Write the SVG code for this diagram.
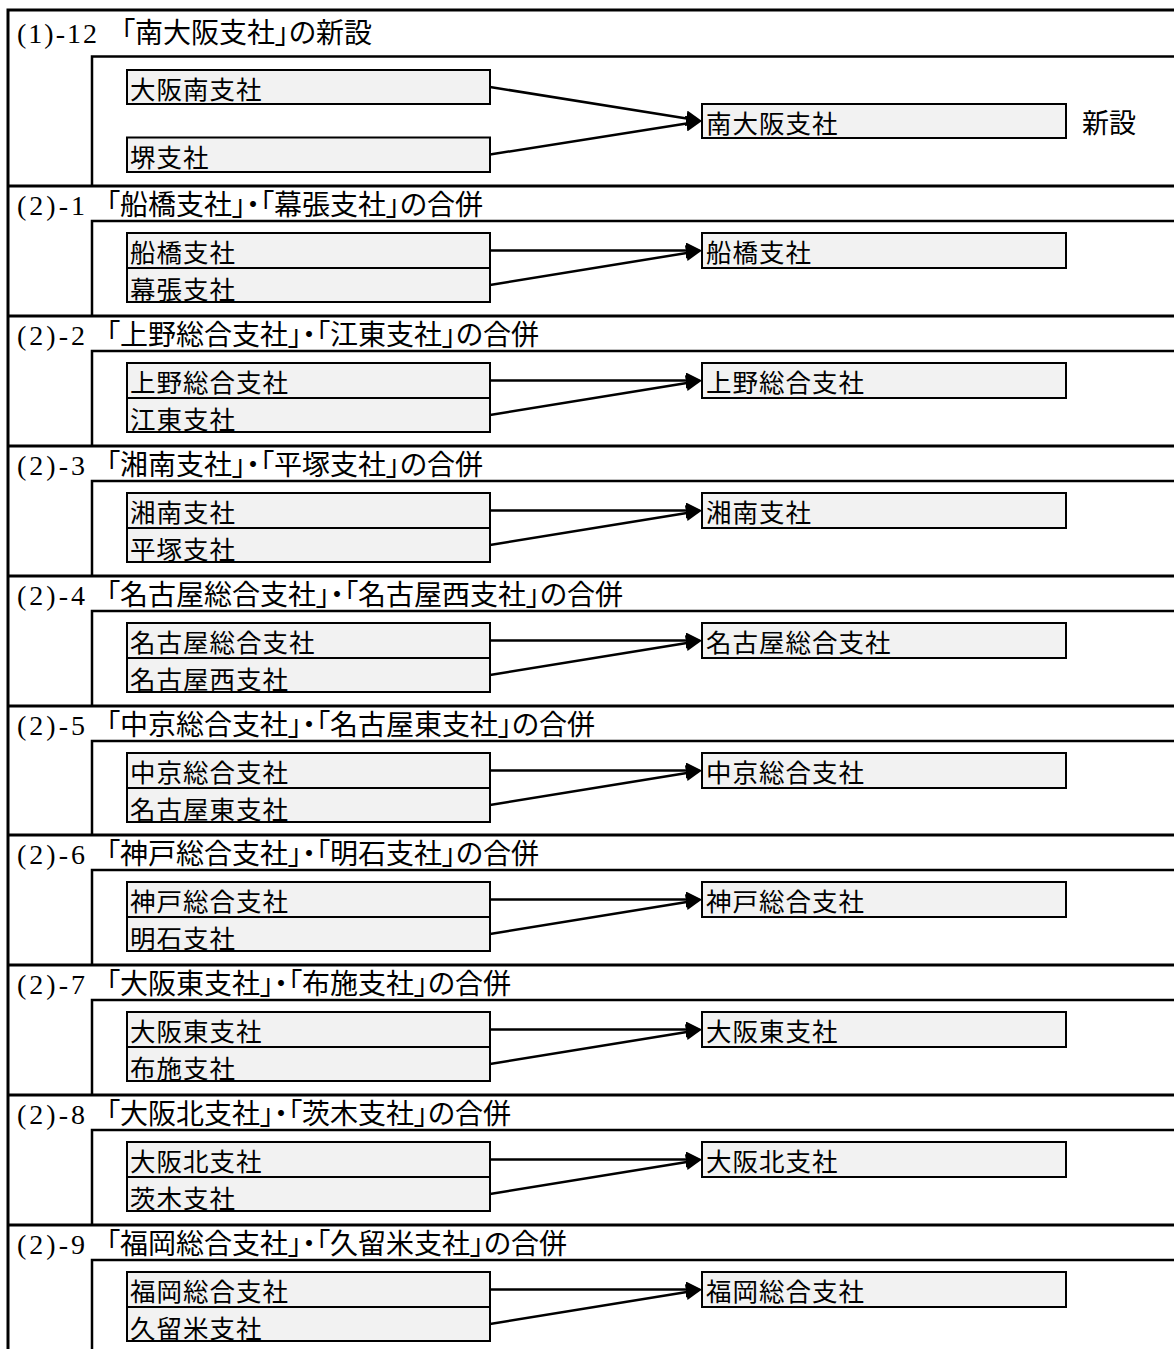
<svg xmlns="http://www.w3.org/2000/svg" width="1174" height="1349" viewBox="0 0 1174 1349">
<defs>
<style>
.frame{fill:none;stroke:#000;stroke-width:3}
.inner{fill:none;stroke:#000;stroke-width:2.5}
.box{fill:#f2f2f2;stroke:#000;stroke-width:2}
.t{font-family:"Noto Sans CJK JP","Noto Sans CJK SC",sans-serif;font-size:25.5px;letter-spacing:1px;fill:#000}
.lbl{font-family:"Noto Sans CJK JP","Noto Sans CJK SC",sans-serif;font-size:27px;fill:#000}
.title{font-family:"Liberation Serif","Noto Sans CJK JP",serif;font-size:28px;fill:#000}
.jp{font-family:"Noto Sans CJK JP",sans-serif;font-feature-settings:"palt";font-size:28px}
.conn{fill:none;stroke:#000;stroke-width:2.5}
</style>
<marker id="arr" viewBox="0 0 16 16" refX="10" refY="8" markerWidth="16" markerHeight="16" markerUnits="userSpaceOnUse" orient="auto">
<path d="M0,0 L16,8 L0,16 z" fill="#000"/>
</marker>
</defs>
<rect width="1174" height="1349" fill="#fff"/>
<g id="frames">
<path class="frame" d="M1176,10 H8 V1352"/>
<path class="frame" d="M8,186 H1176 M8,316 H1176 M8,446 H1176 M8,576 H1176 M8,706 H1176 M8,835 H1176 M8,965 H1176 M8,1095 H1176 M8,1225 H1176"/>
</g>
<g id="sec1">
<text class="title" x="17" y="43"><tspan textLength="80" lengthAdjust="spacing">(1)-12</tspan><tspan class="jp" x="121">「南大阪支社」の新設</tspan></text>
<path class="inner" d="M1176,56.5 H92 V186"/>
<g id="s1-a"><rect class="box" x="127" y="70" width="363" height="34"/><text class="t" x="130" y="98.5">大阪南支社</text></g>
<g id="s1-b"><rect class="box" x="127" y="137.5" width="363" height="34.5"/><text class="t" x="130" y="167">堺支社</text></g>
<g id="s1-c"><rect class="box" x="702" y="104" width="364" height="34"/><text class="t" x="706" y="132.5">南大阪支社</text></g>
<text class="lbl" x="1082" y="133">新設</text>
</g>
<g id="sec2-1" transform="translate(0,186)">
<text class="title" x="17" y="29"><tspan textLength="68" lengthAdjust="spacing">(2)-1</tspan><tspan class="jp" x="106">「船橋支社」・「幕張支社」の合併</tspan></text>
<path class="inner" d="M1176,35 H92 V130"/>
<g id="s2-1-a"><rect class="box" x="127" y="47" width="363" height="35"/><text class="t" x="130" y="75.5">船橋支社</text></g>
<g id="s2-1-b"><rect class="box" x="127" y="82" width="363" height="34"/><text class="t" x="130" y="113">幕張支社</text></g>
<g id="s2-1-c"><rect class="box" x="702" y="47" width="364" height="35"/><text class="t" x="706" y="75.5">船橋支社</text></g>
</g>
<g id="sec2-2" transform="translate(0,316)">
<text class="title" x="17" y="29"><tspan textLength="68" lengthAdjust="spacing">(2)-2</tspan><tspan class="jp" x="106">「上野総合支社」・「江東支社」の合併</tspan></text>
<path class="inner" d="M1176,35 H92 V130"/>
<g id="s2-2-a"><rect class="box" x="127" y="47" width="363" height="35"/><text class="t" x="130" y="75.5">上野総合支社</text></g>
<g id="s2-2-b"><rect class="box" x="127" y="82" width="363" height="34"/><text class="t" x="130" y="113">江東支社</text></g>
<g id="s2-2-c"><rect class="box" x="702" y="47" width="364" height="35"/><text class="t" x="706" y="75.5">上野総合支社</text></g>
</g>
<g id="sec2-3" transform="translate(0,446)">
<text class="title" x="17" y="29"><tspan textLength="68" lengthAdjust="spacing">(2)-3</tspan><tspan class="jp" x="106">「湘南支社」・「平塚支社」の合併</tspan></text>
<path class="inner" d="M1176,35 H92 V130"/>
<g id="s2-3-a"><rect class="box" x="127" y="47" width="363" height="35"/><text class="t" x="130" y="75.5">湘南支社</text></g>
<g id="s2-3-b"><rect class="box" x="127" y="82" width="363" height="34"/><text class="t" x="130" y="113">平塚支社</text></g>
<g id="s2-3-c"><rect class="box" x="702" y="47" width="364" height="35"/><text class="t" x="706" y="75.5">湘南支社</text></g>
</g>
<g id="sec2-4" transform="translate(0,576)">
<text class="title" x="17" y="29"><tspan textLength="68" lengthAdjust="spacing">(2)-4</tspan><tspan class="jp" x="106">「名古屋総合支社」・「名古屋西支社」の合併</tspan></text>
<path class="inner" d="M1176,35 H92 V130"/>
<g id="s2-4-a"><rect class="box" x="127" y="47" width="363" height="35"/><text class="t" x="130" y="75.5">名古屋総合支社</text></g>
<g id="s2-4-b"><rect class="box" x="127" y="82" width="363" height="34"/><text class="t" x="130" y="113">名古屋西支社</text></g>
<g id="s2-4-c"><rect class="box" x="702" y="47" width="364" height="35"/><text class="t" x="706" y="75.5">名古屋総合支社</text></g>
</g>
<g id="sec2-5" transform="translate(0,706)">
<text class="title" x="17" y="29"><tspan textLength="68" lengthAdjust="spacing">(2)-5</tspan><tspan class="jp" x="106">「中京総合支社」・「名古屋東支社」の合併</tspan></text>
<path class="inner" d="M1176,35 H92 V129"/>
<g id="s2-5-a"><rect class="box" x="127" y="47" width="363" height="35"/><text class="t" x="130" y="75.5">中京総合支社</text></g>
<g id="s2-5-b"><rect class="box" x="127" y="82" width="363" height="34"/><text class="t" x="130" y="113">名古屋東支社</text></g>
<g id="s2-5-c"><rect class="box" x="702" y="47" width="364" height="35"/><text class="t" x="706" y="75.5">中京総合支社</text></g>
</g>
<g id="sec2-6" transform="translate(0,835)">
<text class="title" x="17" y="29"><tspan textLength="68" lengthAdjust="spacing">(2)-6</tspan><tspan class="jp" x="106">「神戸総合支社」・「明石支社」の合併</tspan></text>
<path class="inner" d="M1176,35 H92 V130"/>
<g id="s2-6-a"><rect class="box" x="127" y="47" width="363" height="35"/><text class="t" x="130" y="75.5">神戸総合支社</text></g>
<g id="s2-6-b"><rect class="box" x="127" y="82" width="363" height="34"/><text class="t" x="130" y="113">明石支社</text></g>
<g id="s2-6-c"><rect class="box" x="702" y="47" width="364" height="35"/><text class="t" x="706" y="75.5">神戸総合支社</text></g>
</g>
<g id="sec2-7" transform="translate(0,965)">
<text class="title" x="17" y="29"><tspan textLength="68" lengthAdjust="spacing">(2)-7</tspan><tspan class="jp" x="106">「大阪東支社」・「布施支社」の合併</tspan></text>
<path class="inner" d="M1176,35 H92 V130"/>
<g id="s2-7-a"><rect class="box" x="127" y="47" width="363" height="35"/><text class="t" x="130" y="75.5">大阪東支社</text></g>
<g id="s2-7-b"><rect class="box" x="127" y="82" width="363" height="34"/><text class="t" x="130" y="113">布施支社</text></g>
<g id="s2-7-c"><rect class="box" x="702" y="47" width="364" height="35"/><text class="t" x="706" y="75.5">大阪東支社</text></g>
</g>
<g id="sec2-8" transform="translate(0,1095)">
<text class="title" x="17" y="29"><tspan textLength="68" lengthAdjust="spacing">(2)-8</tspan><tspan class="jp" x="106">「大阪北支社」・「茨木支社」の合併</tspan></text>
<path class="inner" d="M1176,35 H92 V130"/>
<g id="s2-8-a"><rect class="box" x="127" y="47" width="363" height="35"/><text class="t" x="130" y="75.5">大阪北支社</text></g>
<g id="s2-8-b"><rect class="box" x="127" y="82" width="363" height="34"/><text class="t" x="130" y="113">茨木支社</text></g>
<g id="s2-8-c"><rect class="box" x="702" y="47" width="364" height="35"/><text class="t" x="706" y="75.5">大阪北支社</text></g>
</g>
<g id="sec2-9" transform="translate(0,1225)">
<text class="title" x="17" y="29"><tspan textLength="68" lengthAdjust="spacing">(2)-9</tspan><tspan class="jp" x="106">「福岡総合支社」・「久留米支社」の合併</tspan></text>
<path class="inner" d="M1176,35 H92 V130"/>
<g id="s2-9-a"><rect class="box" x="127" y="47" width="363" height="35"/><text class="t" x="130" y="75.5">福岡総合支社</text></g>
<g id="s2-9-b"><rect class="box" x="127" y="82" width="363" height="34"/><text class="t" x="130" y="113">久留米支社</text></g>
<g id="s2-9-c"><rect class="box" x="702" y="47" width="364" height="35"/><text class="t" x="706" y="75.5">福岡総合支社</text></g>
</g>
<g id="connectors">
<path class="conn" marker-end="url(#arr)" d="M490,87 L696.08,120.05"/>
<path class="conn" marker-end="url(#arr)" d="M490,154.5 L696.07,121.94"/>
<g transform="translate(0,186)"><path class="conn" marker-end="url(#arr)" d="M490,64.5 H696"/><path class="conn" marker-end="url(#arr)" d="M490,99 L696.08,65.46"/></g>
<g transform="translate(0,316)"><path class="conn" marker-end="url(#arr)" d="M490,64.5 H696"/><path class="conn" marker-end="url(#arr)" d="M490,99 L696.08,65.46"/></g>
<g transform="translate(0,446)"><path class="conn" marker-end="url(#arr)" d="M490,64.5 H696"/><path class="conn" marker-end="url(#arr)" d="M490,99 L696.08,65.46"/></g>
<g transform="translate(0,576)"><path class="conn" marker-end="url(#arr)" d="M490,64.5 H696"/><path class="conn" marker-end="url(#arr)" d="M490,99 L696.08,65.46"/></g>
<g transform="translate(0,706)"><path class="conn" marker-end="url(#arr)" d="M490,64.5 H696"/><path class="conn" marker-end="url(#arr)" d="M490,99 L696.08,65.46"/></g>
<g transform="translate(0,835)"><path class="conn" marker-end="url(#arr)" d="M490,64.5 H696"/><path class="conn" marker-end="url(#arr)" d="M490,99 L696.08,65.46"/></g>
<g transform="translate(0,965)"><path class="conn" marker-end="url(#arr)" d="M490,64.5 H696"/><path class="conn" marker-end="url(#arr)" d="M490,99 L696.08,65.46"/></g>
<g transform="translate(0,1095)"><path class="conn" marker-end="url(#arr)" d="M490,64.5 H696"/><path class="conn" marker-end="url(#arr)" d="M490,99 L696.08,65.46"/></g>
<g transform="translate(0,1225)"><path class="conn" marker-end="url(#arr)" d="M490,64.5 H696"/><path class="conn" marker-end="url(#arr)" d="M490,99 L696.08,65.46"/></g>
</g>
</svg>
